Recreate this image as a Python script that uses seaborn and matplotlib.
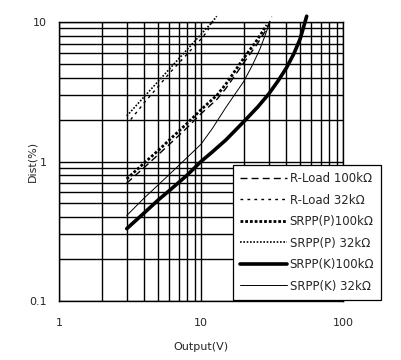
import matplotlib
matplotlib.use("Agg")
import matplotlib.pyplot as plt
from matplotlib.lines import Line2D
import pandas as pd
import seaborn as sns

# ── Data ─────────────────────────────────────────────────────────────────────
rload_100k_x = [3, 4, 5, 6, 8, 10, 13, 15, 20, 25, 29, 31.5]
rload_100k_y = [0.70, 0.91, 1.12, 1.33, 1.75, 2.2, 2.8, 3.35, 5.1, 7.0, 8.9, 10.9]

rload_32k_x = [3.2, 4, 5, 6, 8, 10, 11, 12.2]
rload_32k_y = [2.0, 2.65, 3.45, 4.3, 5.9, 7.55, 8.5, 10.3]

srppp_100k_x = [3, 4, 5, 6, 8, 10, 13, 15, 20, 25, 29]
srppp_100k_y = [0.75, 0.98, 1.2, 1.43, 1.88, 2.35, 3.0, 3.6, 5.5, 7.5, 9.5]

srppp_32k_x = [3, 4, 5, 6, 7, 8, 10, 12, 12.9]
srppp_32k_y = [2.12, 2.93, 3.76, 4.61, 5.48, 6.36, 8.16, 10.0, 11.0]

srppk_100k_x = [3, 4, 5, 6, 7, 8, 10, 12, 15, 20, 25, 30, 35, 40, 45, 50, 55.5]
srppk_100k_y = [0.33, 0.43, 0.53, 0.62, 0.71, 0.80, 1.0, 1.17, 1.43, 1.93,
                2.45, 3.05, 3.8, 4.7, 5.9, 7.6, 11.0]

srppk_32k_x = [3, 4, 5, 6, 8, 10, 12, 15, 20, 23, 26, 28, 30]
srppk_32k_y = [0.41, 0.55, 0.68, 0.81, 1.07, 1.33, 1.72, 2.45, 3.75, 4.9, 6.4,
               7.8, 9.5]

labels = ["R-Load 100kΩ", "R-Load 32kΩ", "SRPP(P)100kΩ",
          "SRPP(P) 32kΩ", "SRPP(K)100kΩ", "SRPP(K) 32kΩ"]
series_x = [rload_100k_x, rload_32k_x, srppp_100k_x,
            srppp_32k_x, srppk_100k_x, srppk_32k_x]
series_y = [rload_100k_y, rload_32k_y, srppp_100k_y,
            srppp_32k_y, srppk_100k_y, srppk_32k_y]

# line styles per series (same order as labels)
styles = [
    dict(lw=1.0, ls=(0, (5, 3))),
    dict(lw=1.0, ls=(0, (2, 3))),
    dict(lw=2.0, ls=(0, (1, 0.7))),
    dict(lw=1.2, ls=(0, (1, 1))),
    dict(lw=2.6, ls="-"),
    dict(lw=0.7, ls="-"),
]

df = pd.concat(
    [pd.DataFrame({"x": xs, "y": ys, "series": lab})
     for xs, ys, lab in zip(series_x, series_y, labels)],
    ignore_index=True,
)

# ── Plot ─────────────────────────────────────────────────────────────────────
sns.set_style("white")
plt.rcParams["font.family"] = ["DejaVu Sans"]
plt.rcParams["font.size"] = 8

fig = plt.figure(figsize=(4.02, 3.6), dpi=100)
ax = fig.add_axes([59 / 402, 1 - 301 / 360, 284 / 402, 279 / 360])

for lab, st in zip(labels, styles):
    sub = df[df["series"] == lab]
    sns.lineplot(data=sub, x="x", y="y", ax=ax, color="black",
                 linewidth=st["lw"], linestyle=st["ls"], sort=False,
                 estimator=None, legend=False)

for line in ax.lines:
    line.set_clip_on(False)

ax.set_xscale("log")
ax.set_yscale("log")
ax.set_xlim(1, 100)
ax.set_ylim(0.1, 10)

ax.grid(which="both", color="black", linewidth=1.0)
for sp in ax.spines.values():
    sp.set_color("black")
    sp.set_linewidth(1.0)

ax.set_xticks([1, 10, 100], ["1", "10", "100"])
ax.set_yticks([0.1, 1, 10], ["0.1", "1", "10"])
ax.minorticks_on()
ax.tick_params(which="both", length=0)
ax.tick_params(axis="x", pad=12, labelsize=8)
ax.tick_params(axis="y", pad=9, labelsize=8)
ax.tick_params(which="minor", labelbottom=False, labelleft=False)

ax.set_xlabel("Output(V)", fontsize=8, labelpad=10)
ax.set_ylabel("Dist(%)", fontsize=8)
ax.yaxis.set_label_coords(-0.075, 0.5)

handles = [Line2D([0], [0], color="black", linewidth=st["lw"], linestyle=st["ls"])
           for st in styles]
leg = ax.legend(handles, labels, loc="upper left",
                bbox_to_anchor=(233 / 402, 1 - 165 / 360),
                bbox_transform=fig.transFigure,
                fontsize=8.5, frameon=True, fancybox=False, framealpha=1,
                edgecolor="black", handlelength=4.0, handletextpad=0.2,
                labelspacing=0.72, borderpad=0.6, borderaxespad=0)
leg.get_frame().set_linewidth(0.9)

fig.savefig("out.png", dpi=100)
